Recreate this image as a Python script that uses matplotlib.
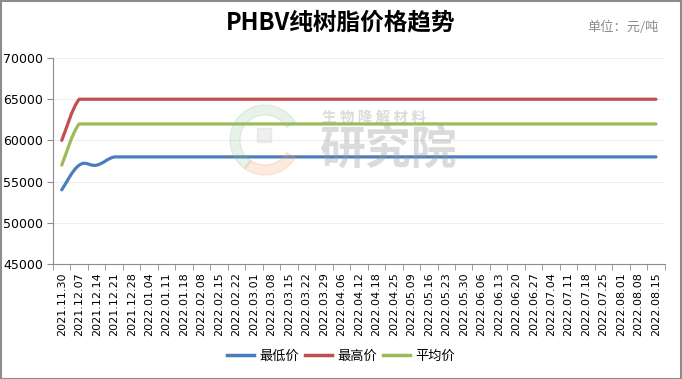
import matplotlib
matplotlib.use('Agg')
import matplotlib.pyplot as plt
from matplotlib.path import Path
from matplotlib.patches import PathPatch, Wedge, Rectangle
from matplotlib.lines import Line2D
import numpy as np

plt.rcParams['font.family'] = ['Noto Sans CJK SC', 'DejaVu Sans']

dates = ['2021.11.30', '2021.12.07', '2021.12.14', '2021.12.21', '2021.12.28',
         '2022.01.04', '2022.01.11', '2022.01.18', '2022.02.08', '2022.02.15',
         '2022.02.22', '2022.03.01', '2022.03.08', '2022.03.15', '2022.03.22',
         '2022.03.29', '2022.04.06', '2022.04.12', '2022.04.18', '2022.04.25',
         '2022.05.09', '2022.05.16', '2022.05.23', '2022.05.30', '2022.06.06',
         '2022.06.13', '2022.06.20', '2022.06.27', '2022.07.04', '2022.07.11',
         '2022.07.18', '2022.07.25', '2022.08.01', '2022.08.08', '2022.08.15']
low = [54000, 57000, 57000, 58000] + [58000] * 31
high = [60000, 65000, 65000, 65000] + [65000] * 31
avg = [57000, 62000, 62000, 62000] + [62000] * 31

names = ['最低价', '最高价', '平均价']
colors = ['#4A7EBB', '#C0504D', '#9BBB59']


def smooth_path(xs, ys, s=0.2):
    # bezier through the points, control points kept inside the data range
    xs = np.asarray(xs, float)
    ys = np.asarray(ys, float)
    lo, hi = ys.min(), ys.max()
    n = len(xs)
    verts = [(xs[0], ys[0])]
    codes = [Path.MOVETO]
    for i in range(n - 1):
        p0 = max(i - 1, 0)
        p3 = min(i + 2, n - 1)
        c1 = (xs[i] + (xs[i + 1] - xs[p0]) * s,
              np.clip(ys[i] + (ys[i + 1] - ys[p0]) * s, lo, hi))
        c2 = (xs[i + 1] - (xs[p3] - xs[i]) * s,
              np.clip(ys[i + 1] - (ys[p3] - ys[i]) * s, lo, hi))
        verts += [c1, c2, (xs[i + 1], ys[i + 1])]
        codes += [Path.CURVE4] * 3
    return Path(verts, codes)


fig = plt.figure(figsize=(6.82, 3.79), dpi=100)
fig.patches.append(Rectangle((0.001, 0.001), 0.997, 0.996, transform=fig.transFigure,
                             fill=False, edgecolor='#8c8c8c', linewidth=1.5))
ax = fig.add_axes([0.0777, 0.3034, 0.897, 0.5435])

x = np.arange(len(dates))
for vals, c in zip([low, high, avg], colors):
    ax.add_patch(PathPatch(smooth_path(x, vals), facecolor='none', edgecolor=c,
                           linewidth=2.3, zorder=3, capstyle='round'))

ax.set_xlim(-0.5, len(dates) - 0.5)
ax.set_ylim(45000, 70000)
ax.set_yticks(range(45000, 70001, 5000))
ax.set_yticklabels([str(v) for v in range(45000, 70001, 5000)], fontsize=9, family='DejaVu Sans')
ax.set_xticks(x)
ax.set_xticklabels(dates, rotation=90, fontsize=8, family='DejaVu Sans')
ax.set_xticks(np.arange(-0.5, len(dates)), minor=True)
ax.tick_params(axis='x', which='major', length=0, pad=6)
ax.tick_params(axis='x', which='minor', length=4, color='#8c8c8c')
ax.tick_params(axis='y', length=4, color='#8c8c8c', pad=3)
ax.grid(axis='y', color='#eeeeee', linewidth=0.8)
ax.set_axisbelow(True)
for s in ['top', 'right']:
    ax.spines[s].set_visible(False)
for s in ['left', 'bottom']:
    ax.spines[s].set_color('#8c8c8c')

# watermark logo + text
cx, cy = 265, 379 - 140
fig.patches.append(Wedge((cx, cy), 35, 30, 235, width=10, transform=None,
                         color='#8cc08c', alpha=0.2, zorder=1))
fig.patches.append(Wedge((cx, cy), 35, 235, 330, width=10, transform=None,
                         color='#f2a070', alpha=0.22, zorder=1))
fig.patches.append(Rectangle((cx - 8, cy - 2), 14, 14, transform=None,
                             color='#b0b0b0', alpha=0.2, zorder=1))
fig.text(322 / 682, 1 - 117 / 379, '生 物 降 解 材 料', fontsize=10.5, color='#9a9a9a', alpha=0.35,
         fontweight='bold', va='center')
fig.text(320 / 682, 1 - 152 / 379, '研究院', fontsize=33, color='#9a9a9a', alpha=0.35,
         fontweight='bold', va='center')

fig.text(0.5, 0.94, 'PHBV纯树脂价格趋势', fontsize=17, fontweight='bold', ha='center', va='center')
fig.text(0.966, 0.928, '单位：元/吨', fontsize=9.5, color='#8c8c8c', ha='right', va='center')

handles = [Line2D([0], [0], color=c, linewidth=2.5) for c in colors]
fig.legend(handles, names, loc='center', bbox_to_anchor=(0.5, 0.06), ncol=3, frameon=False,
           fontsize=9.5, handlelength=2.1, columnspacing=0.4, handletextpad=0.4)

fig.savefig('out.png', dpi=100)
